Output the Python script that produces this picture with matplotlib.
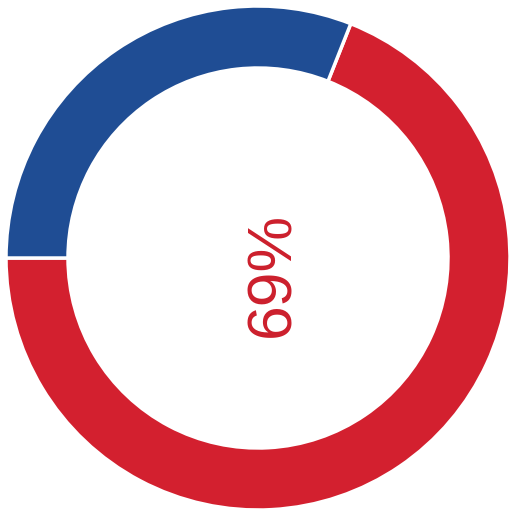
import matplotlib
matplotlib.use("Agg")
import matplotlib.pyplot as plt

# share of each segment (percent)
labels = ["red", "blue"]
values = [69, 31]
colors = ["#d3202f", "#1f4d94"]
center_label = "69%"

fig = plt.figure(figsize=(5.14, 5.24), dpi=100)
ax = fig.add_axes([0, 0, 1, 1])

ax.pie(values, colors=colors, startangle=180, counterclock=True,
       radius=252, center=(258, 266),
       wedgeprops=dict(width=62, edgecolor="white", linewidth=2.5))

ax.text(273, 250, center_label, rotation=90, ha="center", va="center",
        fontsize=45, color="#cc1f2c", family=["Liberation Sans", "DejaVu Sans"])

ax.set_xlim(0, 514)
ax.set_ylim(0, 524)
ax.set_aspect("auto")
ax.axis("off")

fig.savefig("out.png", dpi=100)
